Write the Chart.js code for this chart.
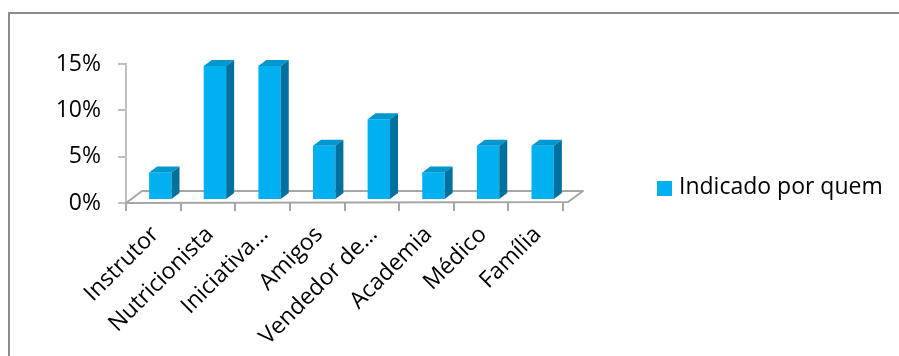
<!DOCTYPE html>
<html>
<head>
<meta charset="utf-8">
<script src="https://cdn.jsdelivr.net/npm/chart.js@4.4.0/dist/chart.umd.min.js"></script>
<style>
  html, body { margin: 0; padding: 0; background: #ffffff; }
  #wrap { position: relative; width: 899px; height: 356px; overflow: hidden; }
</style>
</head>
<body>
<div id="wrap"><canvas id="chart" width="899" height="356"></canvas></div>
<script>
// Who recommended it (% of answers)
const categories = ['Instrutor', 'Nutricionista', 'Iniciativa…', 'Amigos', 'Vendedor de…', 'Academia', 'Médico', 'Família'];
const indicadoPorQuem = [2.94, 14.71, 14.71, 5.88, 8.82, 2.94, 5.88, 5.88];
const seriesName = 'Indicado por quem';
const yTickValues = [0, 5, 10, 15];

const FONT = '"Open Sans", "Noto Sans", sans-serif';
const FONT_SIZE = 23;
const BAR_FRONT = '#00B0F0';
const BAR_SIDE = '#00719E';
const BAR_TOP = '#0096CE';
const FLOOR = '#A6A6A6';

// oblique projection used for the column depth and the floor
const FACE_SHIFT = 7;          // front faces sit a little behind the front plane
const COL_DEPTH = { dx: 8, dy: -6 };
const FLOOR_DEPTH = { dx: 16, dy: -12 };

const depth3d = {
  id: 'depth3d',
  beforeDraw(chart) {
    const ctx = chart.ctx;
    ctx.save();
    ctx.strokeStyle = '#8C8C8C';
    ctx.lineWidth = 2;
    ctx.strokeRect(9, 13, 1000, 1000);
    ctx.restore();
  },
  beforeDatasetsDraw(chart) {
    const ctx = chart.ctx;
    const x = chart.scales.x, y = chart.scales.y;
    const y0 = y.getPixelForValue(0);
    const l = x.left, r = x.right + 5;
    ctx.save();
    ctx.strokeStyle = FLOOR;
    ctx.lineWidth = 2;
    ctx.lineJoin = 'round';
    ctx.beginPath();
    ctx.moveTo(l, y0);
    ctx.lineTo(r, y0 - 1);
    ctx.lineTo(r + FLOOR_DEPTH.dx - 1, y0 + FLOOR_DEPTH.dy);
    ctx.lineTo(l + FLOOR_DEPTH.dx, y0 + FLOOR_DEPTH.dy);
    ctx.closePath();
    ctx.stroke();
    ctx.restore();
    ctx.save();
    ctx.translate(FACE_SHIFT, 0);
  },
  afterDatasetsDraw(chart) {
    const ctx = chart.ctx;
    const meta = chart.getDatasetMeta(0);
    meta.data.forEach(bar => {
      const p = bar.getProps(['x', 'y', 'base', 'width'], true);
      const xl = p.x - p.width / 2, xr = p.x + p.width / 2;
      const dx = COL_DEPTH.dx, dy = COL_DEPTH.dy;
      // top face
      ctx.fillStyle = BAR_TOP;
      ctx.beginPath();
      ctx.moveTo(xl, p.y);
      ctx.lineTo(xr, p.y);
      ctx.lineTo(xr + dx, p.y + dy);
      ctx.lineTo(xl + dx, p.y + dy);
      ctx.closePath();
      ctx.fill();
      // side face
      ctx.fillStyle = BAR_SIDE;
      ctx.beginPath();
      ctx.moveTo(xr, p.y);
      ctx.lineTo(xr + dx, p.y + dy);
      ctx.lineTo(xr + dx, p.base + dy);
      ctx.lineTo(xr, p.base);
      ctx.closePath();
      ctx.fill();
    });
    ctx.restore();
  },
  afterDraw(chart) {
    const ctx = chart.ctx;
    const ds = chart.data.datasets[0];
    ctx.save();
    ctx.fillStyle = ds.backgroundColor;
    ctx.fillRect(657, 181, 15, 15);
    ctx.fillStyle = '#000000';
    ctx.font = FONT_SIZE + 'px ' + FONT;
    ctx.textBaseline = 'middle';
    ctx.textAlign = 'left';
    ctx.fillText(ds.label, 679, 187);
    ctx.restore();
  }
};

new Chart(document.getElementById('chart'), {
  type: 'bar',
  data: {
    labels: categories,
    datasets: [{
      label: seriesName,
      data: indicadoPorQuem,
      backgroundColor: BAR_FRONT,
      borderWidth: 0,
      yAxisID: 'yb',
      barPercentage: 0.41,
      categoryPercentage: 1.0,
      clip: false
    }]
  },
  options: {
    responsive: false,
    animation: false,
    devicePixelRatio: 1,
    layout: { padding: { left: 0, top: 64, right: 336, bottom: 0 } },
    plugins: { legend: { display: false }, tooltip: { enabled: false } },
    scales: {
      x: {
        type: 'category',
        offset: true,
        border: { display: false },
        grid: { display: true, drawOnChartArea: false, offset: true, tickLength: 8, color: FLOOR, lineWidth: 2 },
        ticks: {
          autoSkip: false, minRotation: 45, maxRotation: 45,
          padding: 10, labelOffset: 2,
          color: '#000000', font: { family: FONT, size: FONT_SIZE }
        },
        afterFit(s) { s.height = 153; }
      },
      y: {
        type: 'linear',
        min: 0, max: 15,
        afterBuildTicks(s) { s.ticks = yTickValues.map(v => ({ value: v })); },
        border: { display: true, color: '#BFBFBF', width: 2 },
        grid: { drawOnChartArea: false, tickLength: 8, color: '#BFBFBF', lineWidth: 2 },
        ticks: {
          padding: 17,
          color: '#000000', font: { family: FONT, size: FONT_SIZE },
          callback: v => v + '%'
        },
        afterFit(s) { s.width = 126; }
      },
      // columns stand a little behind the front plane, so their baseline sits higher
      yb: {
        type: 'linear',
        display: false,
        min: -0.44, max: 14.92
      }
    }
  },
  plugins: [depth3d]
});
</script>
</body>
</html>
